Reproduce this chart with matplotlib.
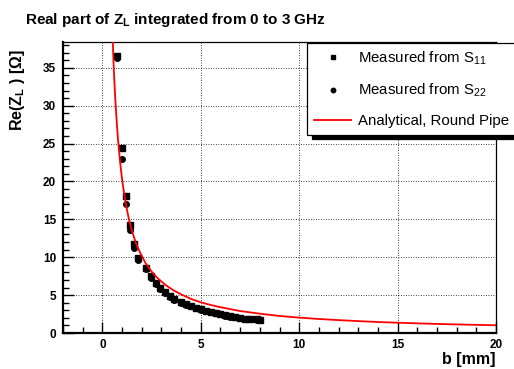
import matplotlib
matplotlib.use("Agg")
import matplotlib.pyplot as plt
from matplotlib.ticker import MultipleLocator

plt.rcParams['font.family'] = ['Liberation Sans', 'DejaVu Sans']
plt.rcParams['mathtext.default'] = 'regular'

# measured Re(Z_L) vs pipe half-aperture b [mm]
b_meas = [0.76, 0.98, 1.19, 1.39, 1.63, 1.83, 2.22, 2.45, 2.70, 2.95, 3.20,
          3.45, 3.62, 4.00, 4.25, 4.50, 4.75, 5.00, 5.25, 5.50, 5.75, 6.00,
          6.25, 6.50, 6.75, 7.00, 7.25, 7.50, 7.85, 8.00]
re_s11 = [36.5, 24.4, 18.1, 14.2, 11.8, 9.9, 8.6, 7.5, 6.6, 5.9, 5.4,
          4.9, 4.5, 4.1, 3.8, 3.55, 3.35, 3.15, 2.95, 2.8, 2.7, 2.5,
          2.35, 2.2, 2.1, 2.0, 1.9, 1.85, 1.8, 1.75]
re_s22 = [36.3, 22.9, 17.0, 13.6, 11.2, 9.6, 8.4, 7.3, 6.5, 5.8, 5.3,
          4.8, 4.4, 4.0, 3.75, 3.5, 3.3, 3.1, 2.9, 2.75, 2.65, 2.45,
          2.3, 2.15, 2.05, 1.95, 1.85, 1.8, 1.75, 1.7]

# analytical round pipe curve
b_ana = [0.52, 0.56, 0.6, 0.65, 0.7, 0.75, 0.8, 0.9, 1.0, 1.1, 1.2, 1.35,
         1.5, 1.7, 1.9, 2.2, 2.5, 2.8, 3.2, 3.6, 4.0, 4.5, 5.0, 5.5, 6.0,
         7.0, 8.0, 9.0, 10.0, 11.0, 12.0, 13.0, 14.0, 16.0, 18.0, 20.0]
re_ana = [39.0, 36.2, 33.8, 31.2, 29.0, 27.1, 25.4, 22.6, 20.3, 18.5, 16.9,
          15.0, 13.5, 11.9, 10.7, 9.2, 8.1, 7.25, 6.35, 5.65, 5.1, 4.5, 4.05,
          3.7, 3.4, 2.9, 2.55, 2.25, 2.03, 1.85, 1.7, 1.57, 1.45, 1.27, 1.13,
          1.02]

fig = plt.figure(figsize=(5.14, 3.69), dpi=100)
ax = fig.add_axes([63/514, 1 - 333/369, 433/514, 291/369])

ax.plot(b_meas, re_s11, linestyle='none', marker='s', markersize=4.3,
        color='black', label='Measured from S$_{11}$', zorder=3)
ax.plot(b_meas, re_s22, linestyle='none', marker='o', markersize=4.0,
        color='black', label='Measured from S$_{22}$', zorder=3)
ax.plot(b_ana, re_ana, color='red', linewidth=1.3,
        label='Analytical, Round Pipe', zorder=4)

ax.set_xlim(-2, 20)
ax.set_ylim(0, 38.4)
ax.xaxis.set_major_locator(MultipleLocator(5))
ax.xaxis.set_minor_locator(MultipleLocator(1))
ax.yaxis.set_major_locator(MultipleLocator(5))
ax.yaxis.set_minor_locator(MultipleLocator(1))
ax.tick_params(which='both', direction='in', top=False, right=False,
               width=1.0, labelsize=8.5)
ax.tick_params(which='major', length=8)
ax.tick_params(which='minor', length=4)
ax.tick_params(axis='y', pad=5)
ax.tick_params(axis='x', pad=4)
for lab in ax.get_xticklabels() + ax.get_yticklabels():
    lab.set_fontweight('bold')

ax.grid(which='major', color='black', linestyle=(0, (1, 2)), linewidth=0.6)
for side in ['left', 'bottom']:
    ax.spines[side].set_linewidth(1.6)
for side in ['top', 'right']:
    ax.spines[side].set_linewidth(0.9)

ax.set_xlabel('b [mm]', fontsize=11.5, fontweight='bold', loc='right', va='top')
ax.xaxis.set_label_coords(1.0, -0.066)
ax.set_ylabel('Re(Z$_L$ ) [Ω]', fontsize=11.5, fontweight='bold', loc='top')
ax.yaxis.set_label_coords(-0.083, 0.975)

fig.text(25/514, 1 - 24/369, 'Real part of Z$_L$ integrated from 0 to 3 GHz',
         fontsize=11, fontweight='bold', ha='left', va='baseline')

# legend box runs past the right edge of the picture, like the original
leg = ax.legend(loc='upper left',
                bbox_to_anchor=(307/514, 1 - 132.7/369, 218/514, 90/369),
                bbox_transform=fig.transFigure, mode='expand',
                fontsize=10.8, frameon=True, fancybox=False,
                shadow={'ox': 3.5, 'oy': -3, 'facecolor': 'black',
                        'edgecolor': 'black', 'alpha': 1},
                edgecolor='black', framealpha=1, borderpad=0.45,
                labelspacing=1.0, handlelength=2.5, handletextpad=0.45,
                borderaxespad=0, markerscale=0.8)
leg.get_frame().set_linewidth(0.9)

fig.savefig('out.png', dpi=100)
